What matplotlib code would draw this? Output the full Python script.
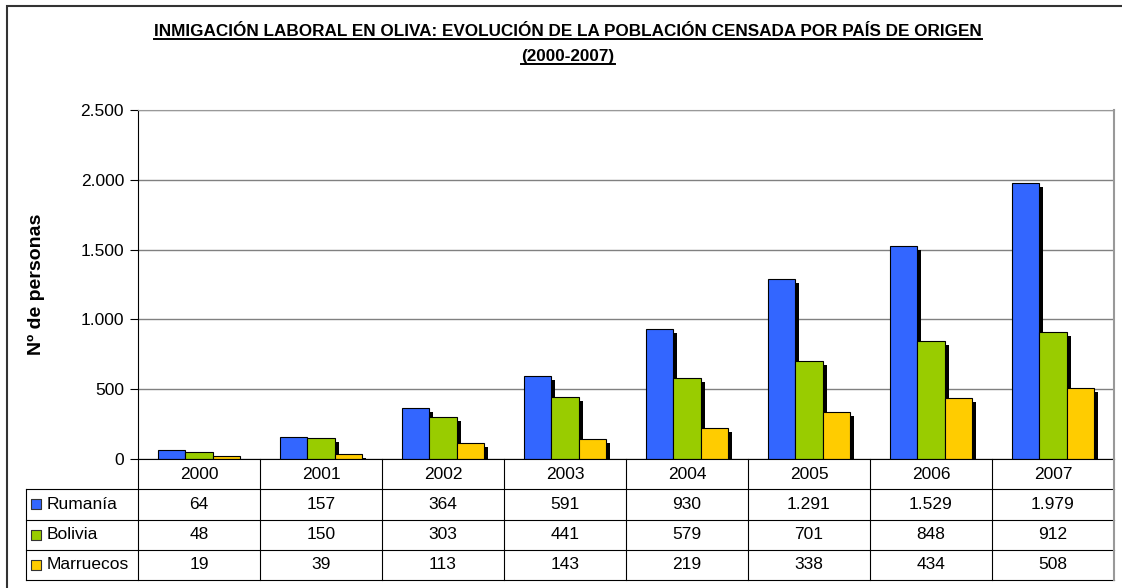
import matplotlib.pyplot as plt
import matplotlib.transforms as mtransforms
from matplotlib.patches import Rectangle
from matplotlib.lines import Line2D
import numpy as np

plt.rcParams['font.family'] = ['Liberation Sans', 'DejaVu Sans']

years = ['2000', '2001', '2002', '2003', '2004', '2005', '2006', '2007']
series = ['Rumanía', 'Bolivia', 'Marruecos']
rumania = [64, 157, 364, 591, 930, 1291, 1529, 1979]
bolivia = [48, 150, 303, 441, 579, 701, 848, 912]
marruecos = [19, 39, 113, 143, 219, 338, 434, 508]
colors = ['#3366FF', '#99CC00', '#FFCC00']
yticks = [0, 500, 1000, 1500, 2000, 2500]

title1 = 'INMIGACIÓN LABORAL EN OLIVA: EVOLUCIÓN DE LA POBLACIÓN CENSADA POR PAÍS DE ORIGEN'
title2 = '(2000-2007)'

FS = 12.5


def fmt(v):
    return f'{v:,}'.replace(',', '.')


W, H = 1122, 588
fig = plt.figure(figsize=(W / 100, H / 100), dpi=100)

# outer frame
fig.patches.append(Rectangle((7 / W, -0.05), 1.2, 1 - 6 / H + 0.05, transform=fig.transFigure,
                             fill=False, ec='#333333', lw=1.5))

ax = fig.add_axes([138 / W, (H - 459) / H, 976 / W, (459 - 110) / H])
x = np.arange(len(years))
bw = 0.222
data = [rumania, bolivia, marruecos]
shadow = mtransforms.offset_copy(ax.transData, fig=fig, x=4, y=-4, units='dots')
for i, vals in enumerate(data):
    xs = x + (i - 1) * bw
    ax.bar(xs, vals, bw, color='black', transform=shadow, zorder=2)
for i, vals in enumerate(data):
    xs = x + (i - 1) * bw
    ax.bar(xs, vals, bw, color=colors[i], edgecolor='black', lw=0.8, zorder=3)

ax.set_xlim(-0.5, len(years) - 0.5)
ax.set_ylim(0, 2500)
ax.set_yticks(yticks)
ax.set_yticklabels([fmt(v) for v in yticks], fontsize=FS)
ax.set_xticks([])
ax.yaxis.grid(True, color='#808080', lw=1)
ax.set_axisbelow(True)
ax.tick_params(axis='y', length=6, width=0.8, pad=4)
ax.spines['left'].set_color('black')
ax.spines['bottom'].set_visible(False)
ax.spines['top'].set_color('#999999')
ax.spines['right'].set_color('#999999')
ax.spines['right'].set_linewidth(1.5)
ax.set_ylabel('Nº de personas', fontsize=14, fontweight='bold')
ax.yaxis.set_label_coords(-(138 - 45) / 976, 0.5)

# data table
axt = fig.add_axes([138 / W, (H - 580) / H, 976 / W, (580 - 459) / H])
axt.set_xlim(-0.5, len(years) - 0.5)
axt.set_ylim(4, 0)
axt.axis('off')
xl = -0.5 - 112 / 122
lk = dict(color='black', lw=0.8, clip_on=False)
axt.plot([-0.5, len(years) - 0.5], [0, 0], **lk)
for r in range(1, 5):
    axt.plot([xl, len(years) - 0.5], [r, r], **lk)
for k in range(len(years) + 1):
    c = '#999999' if k == len(years) else 'black'
    axt.plot([k - 0.5, k - 0.5], [0, 4], color=c, lw=0.8 if k < len(years) else 1.5, clip_on=False)
axt.plot([xl, xl], [1, 4], **lk)
for j, yr in enumerate(years):
    axt.text(j, 0.5, yr, ha='center', va='center', fontsize=FS)
for i, vals in enumerate(data):
    for j, v in enumerate(vals):
        axt.text(j, i + 1.5, fmt(v), ha='center', va='center', fontsize=FS)
    axt.scatter([xl + 0.085], [i + 1.5], marker='s', s=50, color=colors[i],
                edgecolor='#333333', lw=0.8, clip_on=False)
    axt.text(xl + 0.165, i + 1.5, series[i], ha='left', va='center', fontsize=FS)

# title with underline
t1 = fig.text(568 / W, 1 - 32 / H, title1, ha='center', va='center', fontsize=12.3, fontweight='bold')
t2 = fig.text(568 / W, 1 - 57 / H, title2, ha='center', va='center', fontsize=12.3, fontweight='bold')
fig.canvas.draw()
r = fig.canvas.get_renderer()
for t in (t1, t2):
    bb = t.get_window_extent(r)
    fig.lines.append(Line2D([bb.x0 / W, bb.x1 / W], [(bb.y0 + 1) / H] * 2,
                            transform=fig.transFigure, color='black', lw=1.4))

fig.savefig('out.png', dpi=100)
